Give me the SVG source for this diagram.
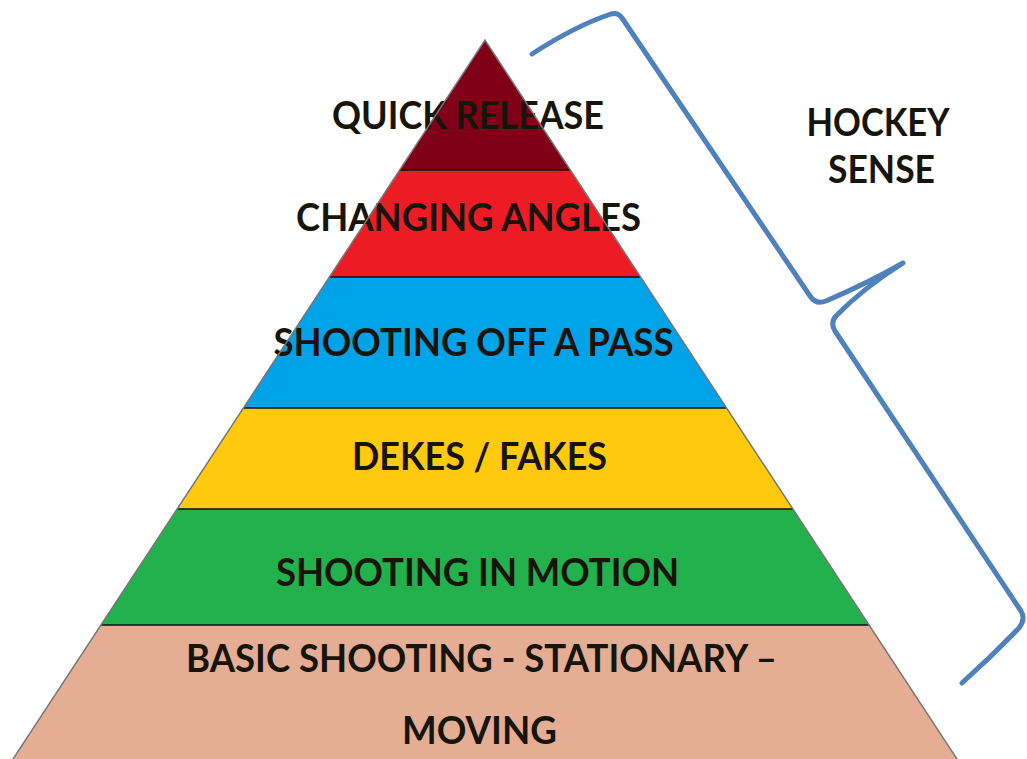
<svg xmlns="http://www.w3.org/2000/svg" width="1027" height="759" viewBox="0 0 1027 759">
<style>
.lbl{font-family:Lato,"Open Sans","Liberation Sans",sans-serif;font-weight:bold;font-size:38px;fill:#16140b;text-anchor:middle}
.sep{stroke:#111;stroke-width:1.5}
.edge{fill:none;stroke:#777;stroke-width:1.5}
.brace{fill:none;stroke:#4F81BD;stroke-width:5;stroke-linecap:round;stroke-linejoin:round}
</style>
<rect width="1027" height="759" fill="#fff"/>
<g id="layer-quick-release">
<polygon points="485,40 570.3,170 399.7,170" fill="#800018"/>
<text class="lbl" x="468" y="129" textLength="272" lengthAdjust="spacingAndGlyphs">QUICK RELEASE</text>
</g>
<g id="layer-changing-angles">
<polygon points="399.7,170 570.3,170 640.6,277 329.4,277" fill="#ED1C24"/>
<text class="lbl" x="468.5" y="231" textLength="345" lengthAdjust="spacingAndGlyphs">CHANGING ANGLES</text>
</g>
<g id="layer-shooting-off-a-pass">
<polygon points="329.4,277 640.6,277 726.6,408 243.4,408" fill="#00A2E8"/>
<text class="lbl" x="473.5" y="356" textLength="400" lengthAdjust="spacingAndGlyphs">SHOOTING OFF A PASS</text>
</g>
<g id="layer-dekes-fakes">
<polygon points="243.4,408 726.6,408 792.9,509 177.1,509" fill="#FFC90E"/>
<text class="lbl" x="479.5" y="470" textLength="255" lengthAdjust="spacingAndGlyphs">DEKES / FAKES</text>
</g>
<g id="layer-shooting-in-motion">
<polygon points="177.1,509 792.9,509 869.1,625 100.9,625" fill="#22B14C"/>
<text class="lbl" x="477.5" y="586" textLength="403" lengthAdjust="spacingAndGlyphs">SHOOTING IN MOTION</text>
</g>
<g id="layer-basic-shooting">
<polygon points="100.9,625 869.1,625 964.2,770 5.8,770" fill="#E5AE94"/>
<text class="lbl" x="481.5" y="672" textLength="591" lengthAdjust="spacingAndGlyphs">BASIC SHOOTING - STATIONARY –</text>
<text class="lbl" x="479.5" y="744" textLength="155" lengthAdjust="spacingAndGlyphs">MOVING</text>
</g>
<g id="separators">
<line class="sep" x1="399.7" y1="170" x2="570.3" y2="170"/>
<line class="sep" x1="329.4" y1="277" x2="640.6" y2="277"/>
<line class="sep" x1="243.4" y1="408" x2="726.6" y2="408"/>
<line class="sep" x1="177.1" y1="509" x2="792.9" y2="509"/>
<line class="sep" x1="100.9" y1="625" x2="869.1" y2="625"/>
<polyline class="edge" points="5.8,770 485,40 964.2,770"/>
</g>
<g id="connectors">
<path class="brace" d="M532,54 Q575,26 611,14 Q618,12 622,18 L810,296 Q816,305 826,301 Q870,282 903,263 Q862,289 836,316 Q830,323 835,331 L1021,611 Q1026,619 1019,628 Q992,656 962,683"/>
</g>
<g id="hockey-sense">
<text class="lbl" x="878" y="136" textLength="143" lengthAdjust="spacingAndGlyphs">HOCKEY</text>
<text class="lbl" x="881.5" y="183" textLength="107" lengthAdjust="spacingAndGlyphs">SENSE</text>
</g>
</svg>
